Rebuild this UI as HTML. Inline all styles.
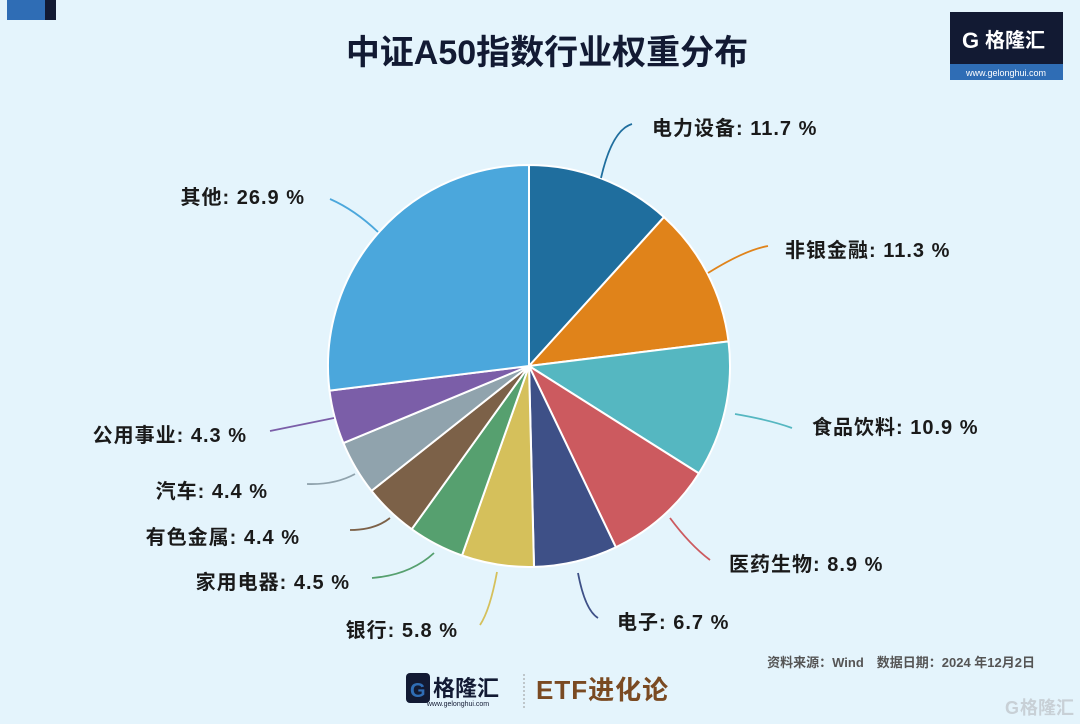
<!DOCTYPE html>
<html><head><meta charset="utf-8"><style>
body{margin:0;background:#e4f4fc;}
svg{display:block}
text{font-family:"Liberation Sans","Noto Sans CJK SC",sans-serif;}
</style></head><body>
<svg width="1080" height="724" viewBox="0 0 1080 724" xmlns="http://www.w3.org/2000/svg">
<rect width="1080" height="724" fill="#e4f4fc"/>
<rect x="7" y="0" width="38" height="20" fill="#2f6db5"/>
<rect x="45" y="0" width="11" height="20" fill="#121a33"/>
<text x="547" y="64" text-anchor="middle" font-size="34" font-weight="bold" fill="#121a33">中证A50指数行业权重分布</text>
<rect x="950" y="12" width="113" height="52" fill="#121a33"/>
<rect x="950" y="64" width="113" height="16" fill="#2f6db5"/>
<text x="962" y="48" font-size="22" font-weight="bold" fill="#fff">G</text>
<text x="985" y="47" font-size="20" font-weight="bold" fill="#fff">格隆汇</text>
<text x="1006" y="76" text-anchor="middle" font-size="9" fill="#fff">www.gelonghui.com</text>
<g stroke="#fff" stroke-width="2" stroke-linejoin="round">
<path d="M529,366 L529,165 A201,201 0 0 1 664.0,217.1 Z" fill="#1f6e9e"/>
<path d="M529,366 L664.0,217.1 A201,201 0 0 1 728.5,341.4 Z" fill="#e0831a"/>
<path d="M529,366 L728.5,341.4 A201,201 0 0 1 698.9,473.4 Z" fill="#55b7c1"/>
<path d="M529,366 L698.9,473.4 A201,201 0 0 1 615.9,547.3 Z" fill="#cc5a5f"/>
<path d="M529,366 L615.9,547.3 A201,201 0 0 1 534.0,566.9 Z" fill="#3e5087"/>
<path d="M529,366 L534.0,566.9 A201,201 0 0 1 462.0,555.5 Z" fill="#d5c05b"/>
<path d="M529,366 L462.0,555.5 A201,201 0 0 1 411.7,529.2 Z" fill="#56a06f"/>
<path d="M529,366 L411.7,529.2 A201,201 0 0 1 371.5,490.9 Z" fill="#7c6148"/>
<path d="M529,366 L371.5,490.9 A201,201 0 0 1 343.4,443.1 Z" fill="#90a3ad"/>
<path d="M529,366 L343.4,443.1 A201,201 0 0 1 329.5,390.6 Z" fill="#7b5ea8"/>
<path d="M529,366 L329.5,390.6 A201,201 0 0 1 529,165 Z" fill="#4ba7dc"/>
</g>
<g fill="none" stroke-width="1.8">
<path d="M601,178 Q612,130 632,124" stroke="#1f6e9e"/>
<path d="M708,273 Q745,250 768,246" stroke="#e0831a"/>
<path d="M735,414 Q770,420 792,428" stroke="#55b7c1"/>
<path d="M670,518 Q690,545 710,560" stroke="#cc5a5f"/>
<path d="M578,573 Q585,610 598,618" stroke="#3e5087"/>
<path d="M497,572 Q490,610 480,625" stroke="#d5c05b"/>
<path d="M434,553 Q410,575 372,578" stroke="#56a06f"/>
<path d="M390,518 Q375,530 350,530" stroke="#7c6148"/>
<path d="M355,474 Q335,485 307,484" stroke="#90a3ad"/>
<path d="M334,418 Q300,425 270,431" stroke="#7b5ea8"/>
<path d="M378,232 Q355,210 330,199" stroke="#4ba7dc"/>
</g>
<g font-size="20" font-weight="bold" fill="#1a1a1a" letter-spacing="1">
<text x="652" y="135">电力设备: 11.7 %</text>
<text x="785" y="257">非银金融: 11.3 %</text>
<text x="812" y="434">食品饮料: 10.9 %</text>
<text x="729" y="571">医药生物: 8.9 %</text>
<text x="617" y="629">电子: 6.7 %</text>
<text x="458" y="637" text-anchor="end">银行: 5.8 %</text>
<text x="350" y="589" text-anchor="end">家用电器: 4.5 %</text>
<text x="300" y="544" text-anchor="end">有色金属: 4.4 %</text>
<text x="268" y="498" text-anchor="end">汽车: 4.4 %</text>
<text x="247" y="442" text-anchor="end">公用事业: 4.3 %</text>
<text x="305" y="204" text-anchor="end">其他: 26.9 %</text>
</g>
<text x="1035" y="667" text-anchor="end" font-size="13" font-weight="bold" fill="#555">资料来源：Wind　数据日期：2024 年12月2日</text>
<rect x="406" y="673" width="24" height="30" rx="4" fill="#121a33"/>
<text x="410" y="697" font-size="20" font-weight="bold" fill="#2f6db5">G</text>
<text x="433" y="696" font-size="22" font-weight="bold" fill="#121a33">格隆汇</text>
<text x="458" y="706" text-anchor="middle" font-size="7" fill="#121a33">www.gelonghui.com</text>
<line x1="524" y1="674" x2="524" y2="708" stroke="#999" stroke-dasharray="2,2"/>
<text x="536" y="699" font-size="26" font-weight="bold" fill="#7a4a22" letter-spacing="1">ETF进化论</text>
<text x="1005" y="714" font-size="18" font-weight="bold" fill="#c8d0d6">G</text>
<text x="1020" y="714" font-size="18" font-weight="bold" fill="#c8d0d6">格隆汇</text>
</svg>
</body></html>
